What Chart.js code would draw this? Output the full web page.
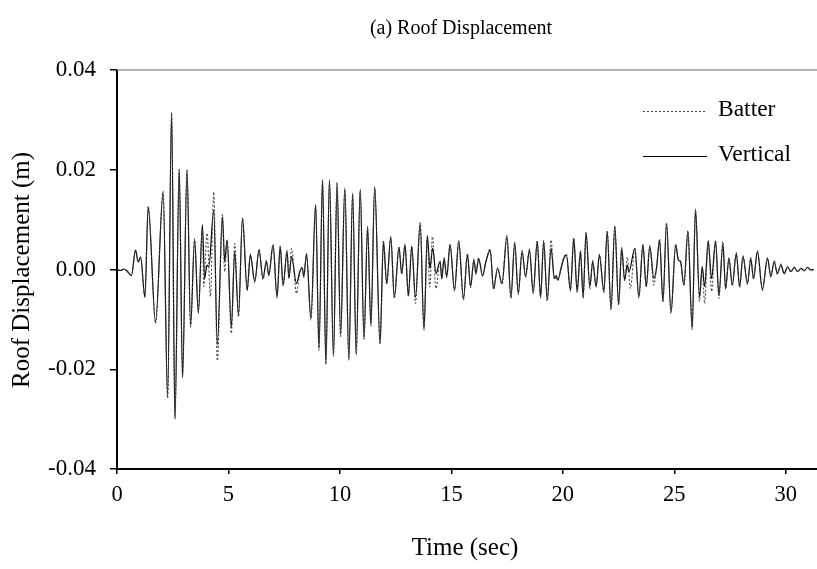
<!DOCTYPE html>
<html><head><meta charset="utf-8">
<script src="https://cdn.jsdelivr.net/npm/chart.js@4/dist/chart.umd.min.js"></script>
<style>html,body{margin:0;padding:0;background:#fff;}#wrap{width:817px;height:569px;}</style>
</head><body><div id="wrap"><canvas id="c" width="817" height="569"></canvas></div>
<script>
const CHART_TITLE = '(a) Roof Displacement';
const X_TITLE = 'Time (sec)';
const Y_TITLE = 'Roof Displacement (m)';
const SERIES_NAMES = ['Batter', 'Vertical'];
const X_TICKS = [0, 5, 10, 15, 20, 25, 30];
const Y_TICKS = [-0.04, -0.02, 0, 0.02, 0.04];

const VERT_T = [0.00,0.15,0.30,0.45,0.65,0.83,0.95,1.06,1.25,1.40,1.73,2.07,2.27,2.45,2.60,2.79,2.94,3.14,3.30,3.48,3.65,3.83,3.93,4.04,4.12,4.34,4.50,4.73,4.83,4.94,5.13,5.28,5.45,5.63,5.84,5.98,6.18,6.37,6.55,6.70,6.81,7.00,7.18,7.32,7.45,7.63,7.71,7.83,8.05,8.20,8.31,8.38,8.50,8.70,8.91,9.06,9.22,9.37,9.53,9.71,9.87,10.03,10.22,10.40,10.57,10.73,10.91,11.08,11.24,11.39,11.56,11.80,11.95,12.10,12.28,12.44,12.65,12.77,12.92,13.07,13.22,13.39,13.60,13.77,13.92,14.04,14.16,14.31,14.49,14.57,14.67,14.79,14.94,15.14,15.33,15.54,15.72,15.86,16.01,16.10,16.22,16.40,16.55,16.74,16.89,17.07,17.27,17.49,17.67,17.84,18.00,18.17,18.33,18.50,18.67,18.85,19.00,19.14,19.30,19.47,19.62,19.70,19.77,19.92,20.04,20.16,20.34,20.49,20.64,20.79,20.91,21.04,21.21,21.34,21.49,21.64,21.84,21.99,22.16,22.33,22.50,22.64,22.77,22.89,22.96,23.23,23.41,23.59,23.74,23.90,24.08,24.20,24.34,24.49,24.65,24.85,25.06,25.18,25.28,25.43,25.61,25.80,25.95,26.13,26.25,26.36,26.52,26.67,26.85,27.00,27.18,27.30,27.45,27.60,27.78,27.93,28.08,28.28,28.43,28.55,28.73,28.95,29.18,29.33,29.48,29.62,29.78,29.93,30.08,30.23,30.38,30.53,30.68,30.83,30.98,31.12,31.25];
const VERT_D = [0.0000,-0.0002,0.0001,-0.0003,-0.0012,0.0039,0.0015,0.0025,-0.0055,0.0125,-0.0105,0.0155,-0.0255,0.0315,-0.0300,0.0202,-0.0217,0.0201,-0.0113,0.0059,-0.0088,0.0090,-0.0018,0.0009,0.0006,0.0119,-0.0151,0.0106,0.0016,0.0059,-0.0115,0.0036,-0.0091,0.0102,-0.0041,0.0029,-0.0024,0.0039,-0.0018,0.0016,-0.0011,0.0049,-0.0055,0.0046,-0.0031,0.0036,-0.0018,0.0026,-0.0028,-0.0004,0.0003,-0.0014,0.0032,-0.0098,0.0130,-0.0158,0.0180,-0.0188,0.0180,-0.0171,0.0171,-0.0131,0.0163,-0.0179,0.0153,-0.0168,0.0161,-0.0138,0.0084,-0.0111,0.0166,-0.0148,0.0056,-0.0028,0.0066,-0.0056,0.0044,-0.0008,0.0049,-0.0053,0.0046,-0.0056,0.0092,-0.0119,0.0068,0.0002,0.0043,-0.0008,0.0016,-0.0018,0.0022,-0.0014,0.0049,-0.0041,0.0056,-0.0059,0.0030,-0.0034,0.0019,-0.0008,0.0022,-0.0012,0.0016,0.0039,-0.0038,0.0002,-0.0028,0.0066,-0.0056,0.0053,-0.0048,0.0036,-0.0014,0.0039,-0.0046,0.0056,-0.0055,0.0056,-0.0061,0.0043,-0.0018,-0.0012,-0.0021,0.0002,0.0022,0.0029,-0.0041,0.0062,-0.0044,0.0036,-0.0055,0.0073,-0.0034,0.0016,-0.0034,0.0029,-0.0044,0.0076,-0.0079,0.0086,-0.0070,0.0042,-0.0021,0.0009,-0.0005,0.0042,-0.0055,0.0049,-0.0034,0.0046,-0.0018,0.0002,0.0059,-0.0064,0.0092,-0.0086,0.0049,0.0019,0.0016,-0.0031,0.0076,-0.0118,0.0119,-0.0055,0.0006,-0.0034,0.0056,-0.0018,0.0056,-0.0051,0.0051,-0.0038,0.0022,-0.0031,0.0032,-0.0034,0.0026,-0.0028,0.0022,-0.0018,0.0036,-0.0040,0.0022,-0.0014,0.0016,-0.0008,0.0009,-0.0008,0.0005,-0.0004,0.0004,-0.0004,0.0002,-0.0002,0.0004,-0.0001,0.0000];

const BATTER_T = [0.00,0.15,0.30,0.45,0.65,0.83,0.95,1.06,1.25,1.40,1.73,2.07,2.27,2.45,2.60,2.79,2.94,3.14,3.30,3.48,3.65,3.83,3.89,4.04,4.19,4.34,4.50,4.73,4.83,4.94,5.13,5.28,5.45,5.63,5.84,5.98,6.18,6.37,6.55,6.70,6.81,7.00,7.18,7.32,7.45,7.63,7.71,7.83,8.05,8.20,8.31,8.38,8.50,8.70,8.91,9.06,9.22,9.37,9.53,9.71,9.87,10.03,10.22,10.40,10.57,10.73,10.91,11.08,11.24,11.39,11.56,11.80,11.95,12.10,12.28,12.44,12.65,12.77,12.92,13.07,13.22,13.39,13.60,13.77,13.92,14.03,14.15,14.31,14.49,14.57,14.67,14.79,14.94,15.14,15.33,15.54,15.72,15.86,16.01,16.10,16.22,16.40,16.55,16.74,16.89,17.07,17.27,17.49,17.67,17.84,18.00,18.17,18.33,18.50,18.67,18.85,19.00,19.14,19.30,19.47,19.62,19.70,19.77,19.92,20.04,20.16,20.34,20.49,20.64,20.79,20.91,21.04,21.21,21.34,21.49,21.64,21.84,21.99,22.16,22.33,22.50,22.64,22.77,22.89,23.03,23.23,23.41,23.59,23.74,23.90,24.08,24.20,24.34,24.49,24.65,24.85,25.06,25.18,25.28,25.43,25.61,25.80,25.95,26.13,26.25,26.36,26.52,26.67,26.85,27.00,27.18,27.30,27.45,27.60,27.78,27.93,28.08,28.28,28.43,28.55,28.73,28.95,29.18,29.33,29.48,29.62,29.78,29.93,30.08,30.23,30.38,30.53,30.68,30.83,30.98,31.12,31.25];
const BATTER_D = [0.0000,-0.0002,0.0001,-0.0003,-0.0012,0.0039,0.0015,0.0025,-0.0057,0.0127,-0.0108,0.0157,-0.0258,0.0312,-0.0298,0.0200,-0.0214,0.0198,-0.0115,0.0062,-0.0080,0.0080,-0.0034,0.0073,-0.0054,0.0155,-0.0183,0.0110,-0.0004,0.0059,-0.0128,0.0052,-0.0095,0.0104,-0.0043,0.0031,-0.0026,0.0041,-0.0020,0.0018,-0.0012,0.0050,-0.0057,0.0047,-0.0033,0.0038,-0.0016,0.0042,-0.0048,-0.0006,0.0005,-0.0016,0.0030,-0.0101,0.0128,-0.0162,0.0178,-0.0191,0.0176,-0.0174,0.0175,-0.0134,0.0160,-0.0182,0.0150,-0.0171,0.0158,-0.0140,0.0086,-0.0113,0.0163,-0.0150,0.0058,-0.0030,0.0064,-0.0058,0.0046,-0.0010,0.0051,-0.0055,0.0048,-0.0068,0.0094,-0.0121,0.0062,-0.0035,0.0066,-0.0038,0.0018,-0.0020,0.0024,-0.0016,0.0051,-0.0043,0.0058,-0.0061,0.0032,-0.0036,0.0021,-0.0010,0.0024,-0.0014,0.0018,0.0041,-0.0040,0.0004,-0.0030,0.0068,-0.0058,0.0055,-0.0050,0.0038,-0.0016,0.0041,-0.0048,0.0058,-0.0057,0.0058,-0.0063,0.0059,-0.0020,-0.0014,-0.0023,0.0004,0.0024,0.0031,-0.0043,0.0064,-0.0046,0.0038,-0.0058,0.0075,-0.0040,0.0018,-0.0036,0.0031,-0.0046,0.0078,-0.0081,0.0088,-0.0072,0.0044,-0.0023,0.0025,-0.0038,0.0044,-0.0057,0.0051,-0.0036,0.0048,-0.0031,0.0004,0.0061,-0.0066,0.0094,-0.0088,0.0051,0.0021,0.0014,-0.0033,0.0078,-0.0120,0.0121,-0.0064,0.0004,-0.0068,0.0059,-0.0044,0.0059,-0.0058,0.0056,-0.0040,0.0024,-0.0033,0.0034,-0.0036,0.0028,-0.0030,0.0024,-0.0020,0.0038,-0.0042,0.0024,-0.0016,0.0018,-0.0010,0.0011,-0.0009,0.0006,-0.0005,0.0005,-0.0005,0.0003,-0.0003,0.0005,-0.0002,0.0000];

const FONT = '"Liberation Serif", "Times New Roman", serif';

const extras = {
  id: 'extras',
  afterDraw(chart) {
    const ctx = chart.ctx, a = chart.chartArea;
    ctx.save();
    // top frame line
    ctx.strokeStyle = '#9a9a9a'; ctx.lineWidth = 1.5;
    ctx.beginPath(); ctx.moveTo(a.left, a.top); ctx.lineTo(a.right, a.top); ctx.stroke();
    ctx.fillStyle = '#000';
    ctx.textBaseline = 'middle'; ctx.textAlign = 'center';
    ctx.font = '20px ' + FONT;
    ctx.fillText(CHART_TITLE, 461, 29);
    ctx.font = '25px ' + FONT;
    ctx.fillText(X_TITLE, 465, 548);
    ctx.save();
    ctx.translate(22, 270); ctx.rotate(-Math.PI / 2);
    ctx.fillText(Y_TITLE, 0, 0);
    ctx.restore();
    // legend
    const ds = chart.data.datasets;
    const rows = [111.5, 156.5];
    ctx.textAlign = 'left';
    ctx.font = '23.5px ' + FONT;
    ds.forEach((d, i) => {
      ctx.save();
      ctx.strokeStyle = d.borderColor; ctx.lineWidth = 1;
      ctx.setLineDash(d.borderDash || []);
      ctx.beginPath(); ctx.moveTo(643, rows[i]); ctx.lineTo(707, rows[i]); ctx.stroke();
      ctx.restore();
      ctx.fillText(d.label, 718, rows[i] - 1.5);
    });
    ctx.restore();
  }
};

new Chart(document.getElementById('c'), {
  type: 'line',
  data: {
    datasets: [
      { label: SERIES_NAMES[0], data: BATTER_T.map((t, i) => ({ x: t, y: BATTER_D[i] })),
        borderColor: '#444', borderWidth: 1.1, borderDash: [2, 2], pointRadius: 0,
        cubicInterpolationMode: 'monotone', fill: false },
      { label: SERIES_NAMES[1], data: VERT_T.map((t, i) => ({ x: t, y: VERT_D[i] })),
        borderColor: '#000', borderWidth: 1.2, pointRadius: 0,
        cubicInterpolationMode: 'monotone', fill: false }
    ]
  },
  options: {
    responsive: false, animation: false,
    layout: { padding: { left: 0, right: 0, top: 70, bottom: 0 } },
    plugins: { legend: { display: false }, title: { display: false }, tooltip: { enabled: false } },
    scales: {
      x: {
        type: 'linear', min: 0, max: 31.4,
        afterBuildTicks: s => { s.ticks = X_TICKS.map(v => ({ value: v })); },
        afterFit: s => { s.height = 100; },
        grid: { display: true, drawOnChartArea: false, drawTicks: true, tickLength: 5, color: '#000', lineWidth: 1.5 },
        border: { display: true, color: '#000', width: 2 },
        ticks: { font: { family: FONT, size: 22.5 }, color: '#000', padding: 8, maxRotation: 0 }
      },
      y: {
        type: 'linear', min: -0.04, max: 0.04,
        afterBuildTicks: s => { s.ticks = Y_TICKS.map(v => ({ value: v })); },
        afterFit: s => { s.width = 117; },
        grid: { display: true, drawOnChartArea: false, drawTicks: true, tickLength: 7, color: '#000', lineWidth: 1.5 },
        border: { display: true, color: '#000', width: 2 },
        ticks: { font: { family: FONT, size: 23 }, color: '#000', padding: 14,
                 callback: v => (Math.abs(v) < 1e-9 ? 0 : v).toFixed(2) }
      }
    }
  },
  plugins: [extras]
});
</script></body></html>
